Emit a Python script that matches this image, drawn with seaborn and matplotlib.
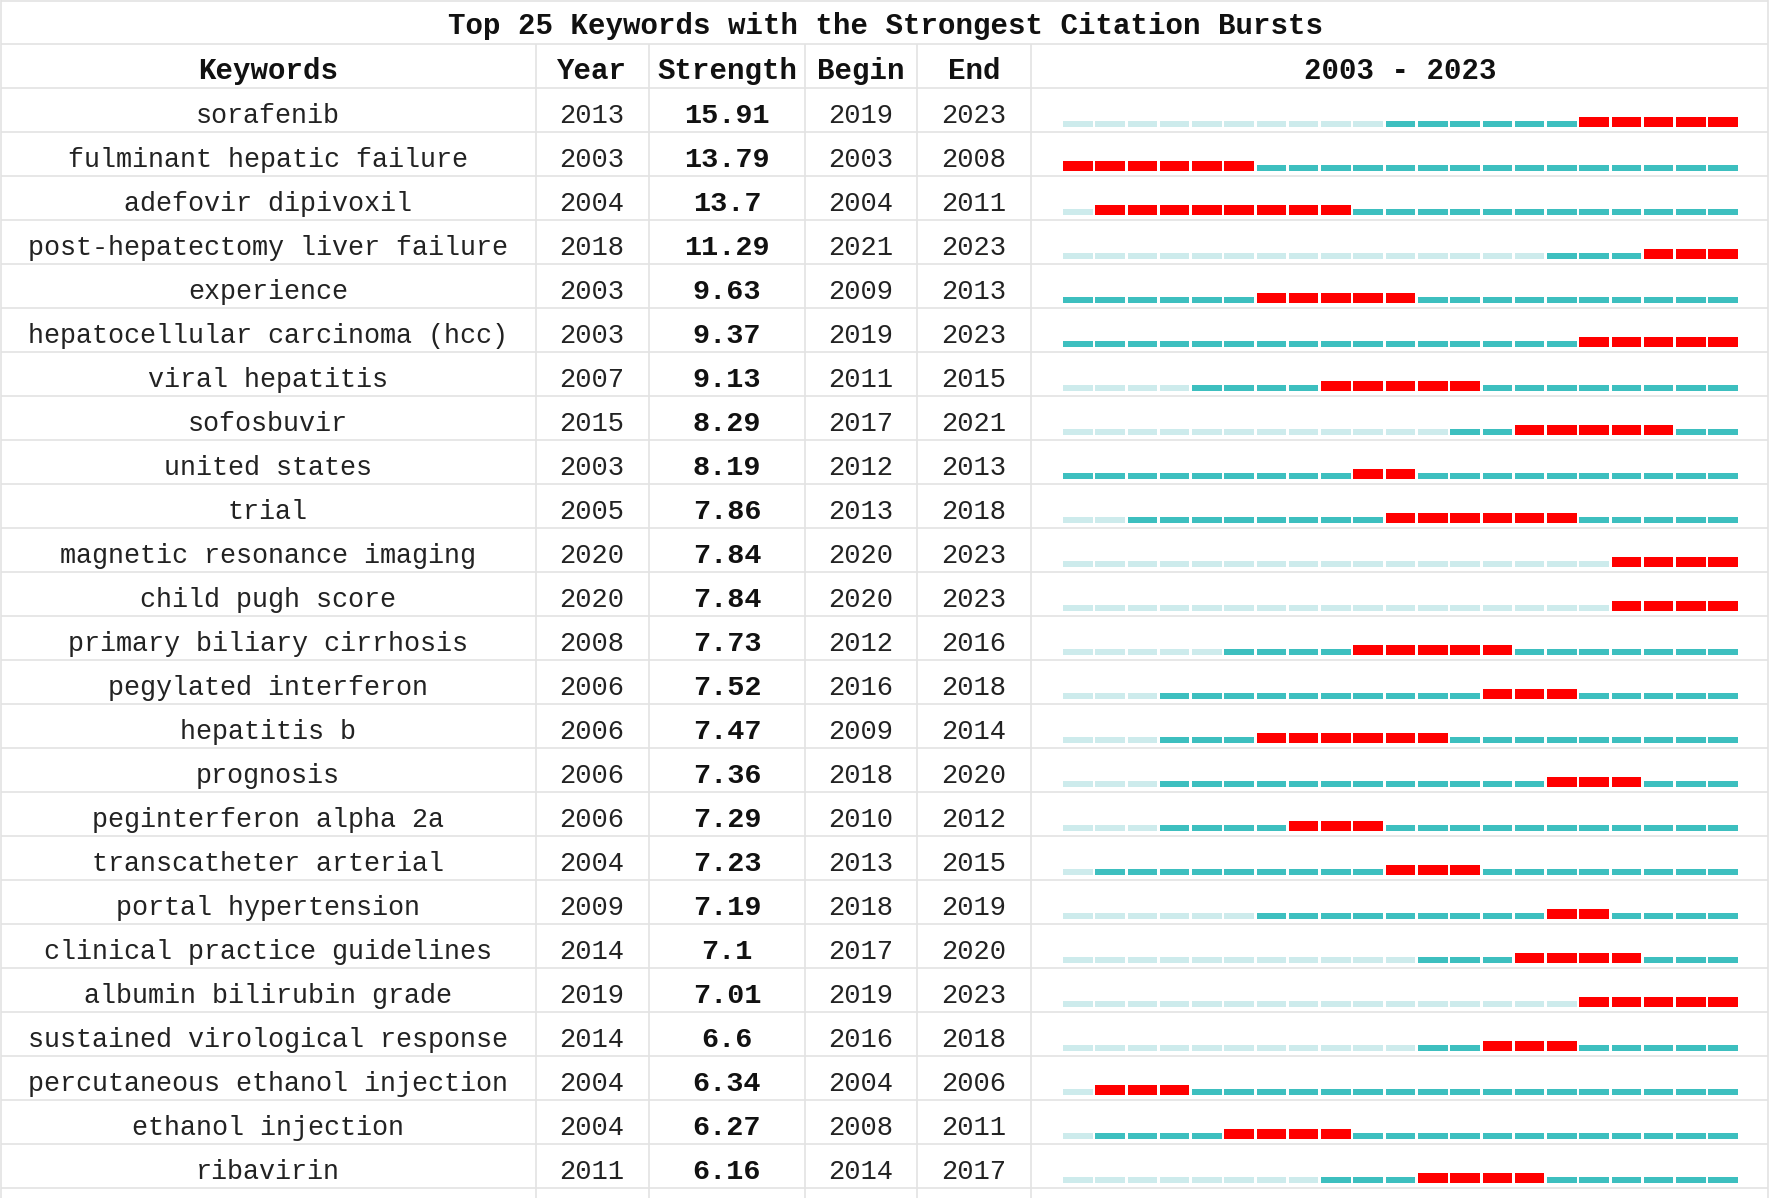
import numpy as np
import pandas as pd
import matplotlib
matplotlib.use("Agg")
import matplotlib.pyplot as plt
import seaborn as sns

# data
keywords = [
    "sorafenib", "fulminant hepatic failure", "adefovir dipivoxil",
    "post-hepatectomy liver failure", "experience",
    "hepatocellular carcinoma (hcc)", "viral hepatitis", "sofosbuvir",
    "united states", "trial", "magnetic resonance imaging",
    "child pugh score", "primary biliary cirrhosis", "pegylated interferon",
    "hepatitis b", "prognosis", "peginterferon alpha 2a",
    "transcatheter arterial", "portal hypertension",
    "clinical practice guidelines", "albumin bilirubin grade",
    "sustained virological response", "percutaneous ethanol injection",
    "ethanol injection", "ribavirin",
]
first_year = [2013, 2003, 2004, 2018, 2003, 2003, 2007, 2015, 2003, 2005,
              2020, 2020, 2008, 2006, 2006, 2006, 2006, 2004, 2009, 2014,
              2019, 2014, 2004, 2004, 2011]
strength = [15.91, 13.79, 13.7, 11.29, 9.63, 9.37, 9.13, 8.29, 8.19, 7.86,
            7.84, 7.84, 7.73, 7.52, 7.47, 7.36, 7.29, 7.23, 7.19, 7.1,
            7.01, 6.6, 6.34, 6.27, 6.16]
begin = [2019, 2003, 2004, 2021, 2009, 2019, 2011, 2017, 2012, 2013,
         2020, 2020, 2012, 2016, 2009, 2018, 2010, 2013, 2018, 2017,
         2019, 2016, 2004, 2008, 2014]
end = [2023, 2008, 2011, 2023, 2013, 2023, 2015, 2021, 2013, 2018,
       2023, 2023, 2016, 2018, 2014, 2020, 2012, 2015, 2019, 2020,
       2023, 2018, 2006, 2011, 2017]
years = list(range(2003, 2024))

headers = ["Keywords", "Year", "Strength", "Begin", "End", "2003 - 2023"]
title = "Top 25 Keywords with the Strongest Citation Bursts"

# one record per keyword per year with its state
rows = []
for i, kw in enumerate(keywords):
    for yr in years:
        if begin[i] <= yr <= end[i]:
            state = "burst"
        elif yr >= first_year[i]:
            state = "active"
        else:
            state = "pre"
        rows.append({"row": i, "year": yr, "state": state})
df = pd.DataFrame(rows)

sns.set_theme(style="white")
plt.rcParams['font.family'] = ['Liberation Mono', 'DejaVu Sans Mono']

W, H = 1772, 1198
fig = plt.figure(figsize=(W / 100, H / 100), dpi=100)
fig.patch.set_facecolor("white")

# table layer in pixel units
ax = fig.add_axes([0, 0, 1, 1])
ax.set_xlim(0, W)
ax.set_ylim(H, 0)
ax.axis("off")

grid = "#e3e3e3"
row_top = 88
row_h = 44
col_lines = [536, 649, 805, 917, 1031]
col_mid = [268, 592, 727, 861, 974, 1400]

ax.hlines([1, 44], 1, 1768, color=grid, lw=1.2)
ax.hlines([row_top + row_h * k for k in range(26)], 1, 1768, color=grid, lw=1.2)
ax.vlines(col_lines, 44, H, color=grid, lw=1.2)
ax.vlines([1, 1768], 0, H, color=grid, lw=1.2)

ax.text(W / 2, 26, title, ha="center", va="center", fontsize=21,
        fontweight="bold", color="#111111")
for x, h in zip(col_mid, headers):
    ax.text(x, 71, h, ha="center", va="center", fontsize=21,
            fontweight="bold", color="#111111")

for i in range(len(keywords)):
    yc = row_top + row_h * i + 28
    ax.text(col_mid[0], yc, keywords[i], ha="center", va="center",
            fontsize=19.3, color="#222222")
    ax.text(col_mid[1], yc, str(first_year[i]), ha="center", va="center",
            fontsize=19.5, color="#222222")
    ax.text(col_mid[2], yc, f"{strength[i]:g}", ha="center", va="center",
            fontsize=20.5, fontweight="bold", color="#111111")
    ax.text(col_mid[3], yc, str(begin[i]), ha="center", va="center",
            fontsize=19.5, color="#222222")
    ax.text(col_mid[4], yc, str(end[i]), ha="center", va="center",
            fontsize=19.5, color="#222222")

# burst timeline in year units
x0, x1 = 1061.65, 1739.35
axb = fig.add_axes([x0 / W, 1 - (row_top + row_h * 25) / H,
                    (x1 - x0) / W, row_h * 25 / H])
axb.set_xlim(2002.5, 2023.5)
axb.set_ylim(25, 0)
axb.axis("off")
axb.patch.set_alpha(0)

colors = {"pre": "#cdebec", "active": "#3dbfbf", "burst": "#ff0000"}
heights = {"pre": 6 / row_h, "active": 6 / row_h, "burst": 10 / row_h}
base = 39 / row_h
for state in ["pre", "active", "burst"]:
    sub = df[df["state"] == state]
    axb.bar(sub["year"], heights[state], bottom=sub["row"] + base - heights[state],
            width=0.916, color=colors[state], linewidth=0)

fig.savefig("out.png", dpi=100, facecolor="white")
